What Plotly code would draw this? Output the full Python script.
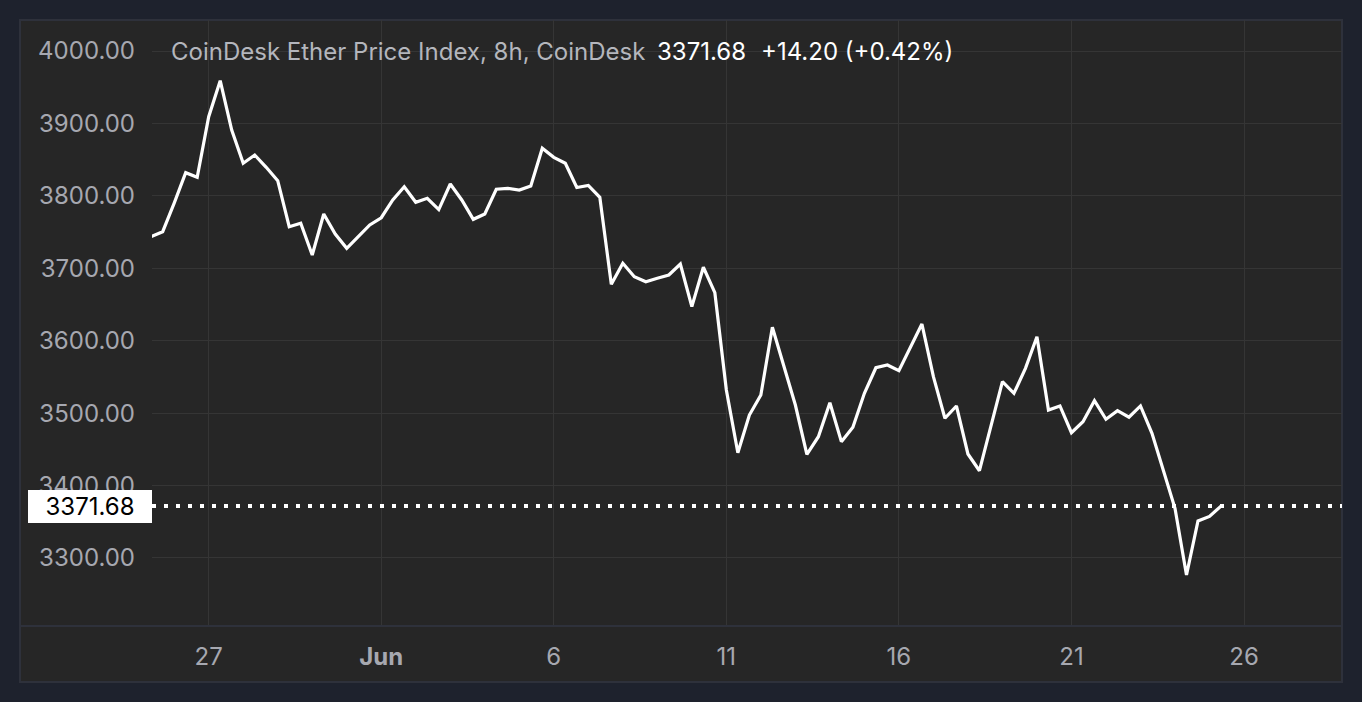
import pandas as pd
import plotly.graph_objects as go

# ---- data (8h closes, CoinDesk Ether Price Index) ----
start_time = "2024-05-25 08:00"
prices = [
    3743.6, 3750.5, 3790.0, 3832.0, 3825.6, 3909.3, 3959.0, 3890.9, 3845.0, 3856.4,
    3839.4, 3820.9, 3757.4, 3762.1, 3718.3, 3774.9, 3747.3, 3727.6, 3743.6, 3759.8,
    3769.8, 3794.3, 3812.6, 3791.1, 3796.6, 3781.0, 3816.4, 3794.3, 3767.6, 3774.9,
    3809.1, 3810.4, 3808.1, 3813.6, 3865.7, 3853.2, 3845.0, 3811.5, 3814.3, 3798.0,
    3677.9, 3706.9, 3688.4, 3681.5, 3686.2, 3690.7, 3705.9, 3647.0, 3701.4, 3666.3,
    3532.0, 3445.4, 3497.4, 3525.0, 3618.5, 3564.1, 3511.2, 3443.2, 3467.5, 3514.4,
    3460.6, 3480.5, 3527.4, 3562.7, 3566.5, 3558.6, 3590.9, 3623.1, 3550.3, 3492.9,
    3509.9, 3443.6, 3420.5, 3481.3, 3543.4, 3527.4, 3561.9, 3605.5, 3504.3, 3509.9,
    3473.0, 3488.2, 3517.2, 3491.5, 3503.4, 3494.3, 3509.9, 3472.2, 3421.5, 3368.6,
    3276.5, 3351.1, 3357.48, 3371.68,
]
times = pd.date_range(start_time, periods=len(prices), freq="8h")

last_price = prices[-1]
change = prices[-1] - prices[-2]
change_pct = change / prices[-2] * 100

title_text = "CoinDesk Ether Price Index, 8h, CoinDesk"
y_ticks = [3300, 3400, 3500, 3600, 3700, 3800, 3900, 4000]
x_tick_dates = ["2024-05-27", "2024-06-01", "2024-06-06", "2024-06-11",
                "2024-06-16", "2024-06-21", "2024-06-26"]
x_tick_labels = ["27", "<b>Jun</b>", "6", "11", "16", "21", "26"]
x_range = ["2024-05-25 08:34", "2024-06-28 20:09"]
y_range = [3206.1, 4042.8]

# ---- styling ----
OUTER = "#1e222d"
PANEL = "#262626"
GRID = "#353535"
BORDER = "#2e313b"
TICK = "#a6a8b0"
FONT = "Inter"
FS = 24

W, H = 1362, 702
ML, MR, MT, MB = 152, 20, 20, 76
pw, ph = W - ML - MR, H - MT - MB
px0 = (20 - ML) / pw
py0 = -(H - 20 - (H - MB)) / ph

fig = go.Figure()
fig.add_trace(go.Scatter(
    x=times, y=prices, mode="lines",
    line=dict(color="#ffffff", width=3.2), hoverinfo="skip", showlegend=False,
))

shapes = [
    dict(type="rect", xref="paper", yref="paper", x0=px0, x1=1.0, y0=py0, y1=1.0,
         fillcolor=PANEL, line=dict(color=BORDER, width=2), layer="below"),
    dict(type="line", xref="paper", yref="paper", x0=px0, x1=1.0, y0=0, y1=0,
         line=dict(color=BORDER, width=2), layer="above"),
    dict(type="line", xref="paper", yref="y", x0=0, x1=1, y0=last_price, y1=last_price,
         line=dict(color="#ffffff", width=4, dash="4px,8px"), layer="above"),
]

ty = 1 - (51 - MT) / ph
annotations = [
    dict(xref="paper", yref="paper", x=(169 - ML) / pw, y=ty,
         xanchor="left", yanchor="middle", showarrow=False, text=title_text,
         font=dict(family=FONT, size=FS, color="#b4b6bd")),
    dict(xref="paper", yref="paper", x=(655 - ML) / pw, y=ty,
         xanchor="left", yanchor="middle", showarrow=False,
         text=f"{last_price:.2f}",
         font=dict(family=FONT, size=FS, color="#ffffff")),
    dict(xref="paper", yref="paper", x=(759 - ML) / pw, y=ty,
         xanchor="left", yanchor="middle", showarrow=False,
         text=f"{change:+.2f} ({change_pct:+.2f}%)",
         font=dict(family=FONT, size=FS, color="#ffffff")),
    dict(xref="paper", yref="y", x=0, y=last_price, xanchor="right", yanchor="middle",
         showarrow=False, text=f"{last_price:.2f}", bgcolor="#ffffff",
         width=124, height=33, borderpad=0, borderwidth=0, align="center",
         font=dict(family=FONT, size=FS, color="#000000")),
]

fig.update_layout(
    width=W, height=H,
    margin=dict(l=ML, r=MR, t=MT, b=MB, pad=0),
    paper_bgcolor=OUTER, plot_bgcolor=PANEL,
    font=dict(family=FONT, size=FS, color=TICK),
    shapes=shapes, annotations=annotations,
    showlegend=False,
    xaxis=dict(
        range=x_range, tickmode="array", tickvals=x_tick_dates, ticktext=x_tick_labels,
        showgrid=True, gridcolor=GRID, gridwidth=1, zeroline=False, showline=False,
        ticks="", ticklabelstandoff=14, tickfont=dict(family=FONT, size=FS, color=TICK),
        fixedrange=True,
    ),
    yaxis=dict(
        range=y_range, tickmode="array", tickvals=y_ticks,
        ticktext=[f"{v:.2f}" for v in y_ticks],
        showgrid=True, gridcolor=GRID, gridwidth=1, zeroline=False, showline=False,
        ticks="", ticklabelstandoff=16, tickfont=dict(family=FONT, size=FS, color=TICK),
        fixedrange=True,
    ),
)

fig.write_html(
    "out.html",
    config={"displayModeBar": False},
    post_script="document.body.style.margin='0';document.body.style.background='#1e222d';",
)
